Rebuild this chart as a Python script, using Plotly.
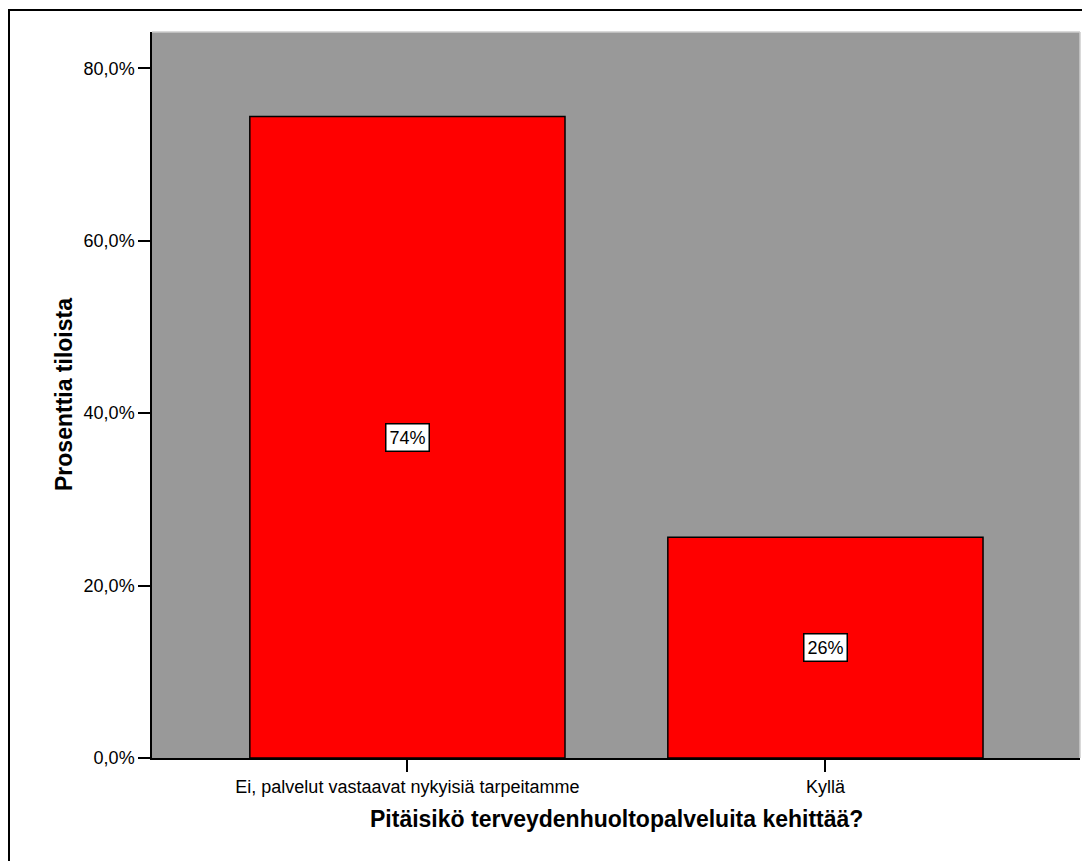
import plotly.graph_objects as go

categories = ["Ei, palvelut vastaavat nykyisiä tarpeitamme", "Kyllä"]
values = [74.4, 25.6]
labels = ["74%", "26%"]
y_ticks = [0, 20, 40, 60, 80]
y_ticktext = [f"{v:.1f}%".replace(".", ",") for v in y_ticks]

# page body has an 8px margin, so the figure is shifted by 8px
W, H = 1082, 853
L, R, T, B = 144, 10, 24, 103
pw, ph = W - L - R, H - T - B

font = "Liberation Sans, Arial, sans-serif"

fig = go.Figure()
fig.add_trace(go.Bar(
    x=categories, y=values, width=0.754,
    marker=dict(color="#ff0000", line=dict(color="#000000", width=1.5)),
    hoverinfo="skip",
))

for c, v, lab in zip(categories, values, labels):
    fig.add_annotation(
        x=c, y=v / 2, text=lab, showarrow=False,
        font=dict(family=font, size=18, color="#000"),
        bgcolor="#ffffff", bordercolor="#000000", borderwidth=1.5, borderpad=3,
    )

# axis titles
fig.add_annotation(
    xref="paper", yref="paper", x=0.5, y=-(811 - T - ph) / ph,
    text="<b>Pitäisikö terveydenhuoltopalveluita kehittää?</b>", showarrow=False,
    xanchor="center", yanchor="middle", font=dict(family=font, size=23, color="#000"),
)
fig.add_annotation(
    xref="paper", yref="paper", x=(56 - L) / pw, y=0.5,
    text="<b>Prosenttia tiloista</b>", showarrow=False, textangle=-90,
    xanchor="center", yanchor="middle", font=dict(family=font, size=23, color="#000"),
)

fig.update_layout(
    width=W, height=H,
    margin=dict(l=L, r=R, t=T, b=B),
    paper_bgcolor="#ffffff", plot_bgcolor="#999999",
    showlegend=False,
    font=dict(family=font, size=18, color="#000"),
    xaxis=dict(
        range=[-0.611, 1.609], showline=True, linecolor="#000", linewidth=1.5,
        ticks="outside", ticklen=12, tickwidth=1.5, tickcolor="#000",
        showgrid=False, zeroline=False,
        tickfont=dict(family=font, size=18),
    ),
    yaxis=dict(
        range=[0, 84.2], showline=True, linecolor="#000", linewidth=1.5,
        ticks="outside", ticklen=12, tickwidth=1.5, tickcolor="#000",
        tickvals=y_ticks, ticktext=y_ticktext,
        showgrid=False, zeroline=False,
        tickfont=dict(family=font, size=18),
    ),
)

# light frame on top/right of plot area
fig.add_shape(type="line", xref="paper", yref="paper", x0=0, x1=1, y0=1, y1=1,
              line=dict(color="#cccccc", width=1.5), layer="above")
fig.add_shape(type="line", xref="paper", yref="paper", x0=1, x1=1, y0=0, y1=1,
              line=dict(color="#cccccc", width=1.5), layer="above")
# outer black frame
fig.add_shape(type="rect", xref="paper", yref="paper",
              x0=(1 - L) / pw, x1=(W + 20 - L) / pw,
              y0=-(H + 20 - T - ph) / ph, y1=(H - 2 - B) / ph,
              line=dict(color="#000", width=2), fillcolor="rgba(0,0,0,0)", layer="above")

fig.write_html("out.html")
